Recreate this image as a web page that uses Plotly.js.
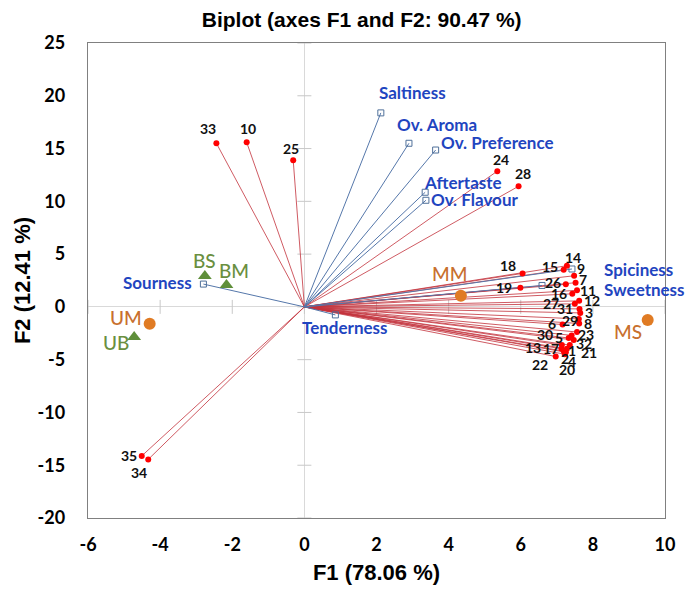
<!DOCTYPE html>
<html><head><meta charset="utf-8">
<script src="https://cdn.plot.ly/plotly-3.0.1.min.js"></script>
<style>html,body{margin:0;padding:0;background:#fff}</style>
</head><body><div id="chart" style="width:685px;height:589px"></div>
<script>
// ---- data ----
const obsLabels = ['1','2','3','4','5','6','7','8','9','10','11','12','13','14','15','16','17','18','19','20','21','22','23','24','25','26','27','28','29','30','31','32','33','34','35'];
const obsF1 = [7.28,7.19,7.65,7.25,7.41,7.16,7.52,7.62,7.48,-1.60,7.56,7.62,7.14,7.28,7.19,7.43,7.13,6.05,5.99,7.22,7.36,6.97,7.56,5.35,-0.31,7.25,7.50,5.94,7.61,7.33,7.63,7.47,-2.44,-4.33,-4.51];
const obsF2 = [-3.97,-4.19,-0.57,-4.29,-2.70,-1.67,2.29,-1.57,2.95,15.59,1.57,0.57,-3.62,3.90,3.52,1.24,-3.97,3.17,1.81,-4.48,-3.62,-4.70,-2.38,12.86,13.90,2.14,0.29,11.43,-1.14,-2.95,-0.19,-3.14,15.50,-14.45,-14.12];

const varLabels = ['Saltiness','Ov. Aroma','Ov. Preference','Aftertaste','Ov. Flavour','Spiciness','Sweetness','Sourness','Tenderness'];
const varF1 = [2.12,2.90,3.64,3.35,3.37,7.42,6.59,-2.80,0.86];
const varF2 = [18.38,15.50,14.86,10.86,10.10,3.59,2.03,2.16,-0.76];

const grpLabels = ['UM','UB','BS','BM','MM','MS'];
const grpF1 = [-4.29,-4.72,-2.76,-2.16,4.34,9.52];
const grpF2 = [-1.59,-2.86,2.92,2.07,1.05,-1.24];

const xTicks = [-6,-4,-2,0,2,4,6,8,10];
const yTicks = [-20,-15,-10,-5,0,5,10,15,20,25];

// ---- label placement (pixel offsets, style only) ----
const obsShift = [[5,-2],[1,-7],[9,0],[6,-9],[-13,-2],[-11,1],[7,3],[9,0],[7,7],[1,14],[11,0],[13,0],[-29,-2],[6,8],[-14,3],[-13,0],[-11,0],[-15,8],[-16,0],[2,-15],[19,-7],[-16,-8],[9,-2],[4,12],[-2,12],[-13,1.5],[-24,0],[4,13],[-9,-2],[-24,4],[-15,0],[10,-3],[-8,15],[-9,-13],[-13,0]];
const varShift = [[32,20,'center'],[28,19,'center'],[62,8,'center'],[38,10,'center'],[49,1,'center'],[30,-1,'left'],[60,-4,'left'],[-9,2,'right'],[10,-13,'center']];
const grpShift = [[-24,6],[-18,-5],[0,16],[8,15],[-11,22],[-20,-12]];
const grpStyle = {UM:['circle','#e07b24','#c8702e'],MM:['circle','#e07b24','#c8702e'],MS:['circle','#e07b24','#c8702e'],
                  UB:['triangle-up','#5f8f3a','#6a8f40'],BS:['triangle-up','#5f8f3a','#6a8f40'],BM:['triangle-up','#5f8f3a','#6a8f40']};

function rays(xs, ys){
  const X=[],Y=[];
  xs.forEach((x,i)=>{X.push(0,x,null);Y.push(0,ys[i],null);});
  return {X,Y};
}
const oR = rays(obsF1, obsF2), vR = rays(varF1, varF2);

const traces = [
  {x:yTicks.map(()=>0),y:yTicks,mode:'markers',marker:{symbol:'line-ew-open',size:10,color:'#c8c8c8',line:{color:'#c8c8c8',width:1}},hoverinfo:'skip',showlegend:false},
  {x:xTicks,y:xTicks.map(()=>0),mode:'markers',marker:{symbol:'line-ns-open',size:10,color:'#c8c8c8',line:{color:'#c8c8c8',width:1}},hoverinfo:'skip',showlegend:false},
  {x:oR.X,y:oR.Y,mode:'lines',line:{color:'rgba(195,50,60,0.8)',width:1},hoverinfo:'skip',showlegend:false},
  {x:vR.X,y:vR.Y,mode:'lines',line:{color:'#5577aa',width:1},hoverinfo:'skip',showlegend:false},
  {x:varF1,y:varF2,mode:'markers',marker:{symbol:'square-open',size:6,color:'#50709a',line:{width:1}},showlegend:false},
  {x:obsF1,y:obsF2,mode:'markers',marker:{symbol:'circle',size:6,color:'#ff0000'},showlegend:false},
  {x:grpF1,y:grpF2,mode:'markers',marker:{symbol:grpLabels.map(g=>grpStyle[g][0]),size:12,color:grpLabels.map(g=>grpStyle[g][1])},showlegend:false}
];

const annotations = [];
obsLabels.forEach((t,i)=>annotations.push({x:obsF1[i],y:obsF2[i],text:t,showarrow:false,xshift:obsShift[i][0],yshift:obsShift[i][1],font:{family:'Lato',size:14,color:'#111',weight:'bold'}}));
varLabels.forEach((t,i)=>annotations.push({x:varF1[i],y:varF2[i],text:t,showarrow:false,xanchor:varShift[i][2],xshift:varShift[i][0],yshift:varShift[i][1],font:{family:'Lato',size:17,color:'#1f45c0',weight:'bold'}}));
grpLabels.forEach((t,i)=>annotations.push({x:grpF1[i],y:grpF2[i],text:t,showarrow:false,xshift:grpShift[i][0],yshift:grpShift[i][1],font:{family:'Lato',size:19,color:grpStyle[t][2],weight:'500'}}));

const layout = {
  width:685,height:589,
  margin:{l:88,r:20,t:43,b:71},
  paper_bgcolor:'#fff',plot_bgcolor:'#fff',
  title:{text:'<b>Biplot (axes F1 and F2: 90.47 %)</b>',x:0.528,xref:'container',xanchor:'center',y:0.966,yref:'container',yanchor:'middle',font:{family:'Liberation Sans',size:21,color:'#000'}},
  xaxis:{range:[-6,10],tickvals:xTicks,ticktext:xTicks.map(String),showgrid:false,zeroline:true,zerolinecolor:'#d9d9d9',zerolinewidth:1,showline:true,mirror:true,linecolor:'#808080',linewidth:1.3,ticks:'',ticklabelstandoff:10,
    tickfont:{family:'Lato',size:18,color:'#000',weight:'bold'},
    title:{text:'<b>F1 (78.06 %)</b>',standoff:10,font:{family:'Liberation Sans',size:22,color:'#000'}}},
  yaxis:{range:[-20,25],tickvals:yTicks,ticktext:yTicks.map(String),showgrid:false,zeroline:true,zerolinecolor:'#d9d9d9',zerolinewidth:1,showline:true,mirror:true,linecolor:'#808080',linewidth:1.3,ticks:'',ticklabelstandoff:18,
    tickfont:{family:'Lato',size:18,color:'#000',weight:'bold'},
    title:{text:'<b>F2 (12.41 %)</b>',standoff:0,font:{family:'Liberation Sans',size:22,color:'#000'}}},
  annotations:annotations
};
Plotly.newPlot('chart',traces,layout,{displayModeBar:false,staticPlot:true});
</script></body></html>
